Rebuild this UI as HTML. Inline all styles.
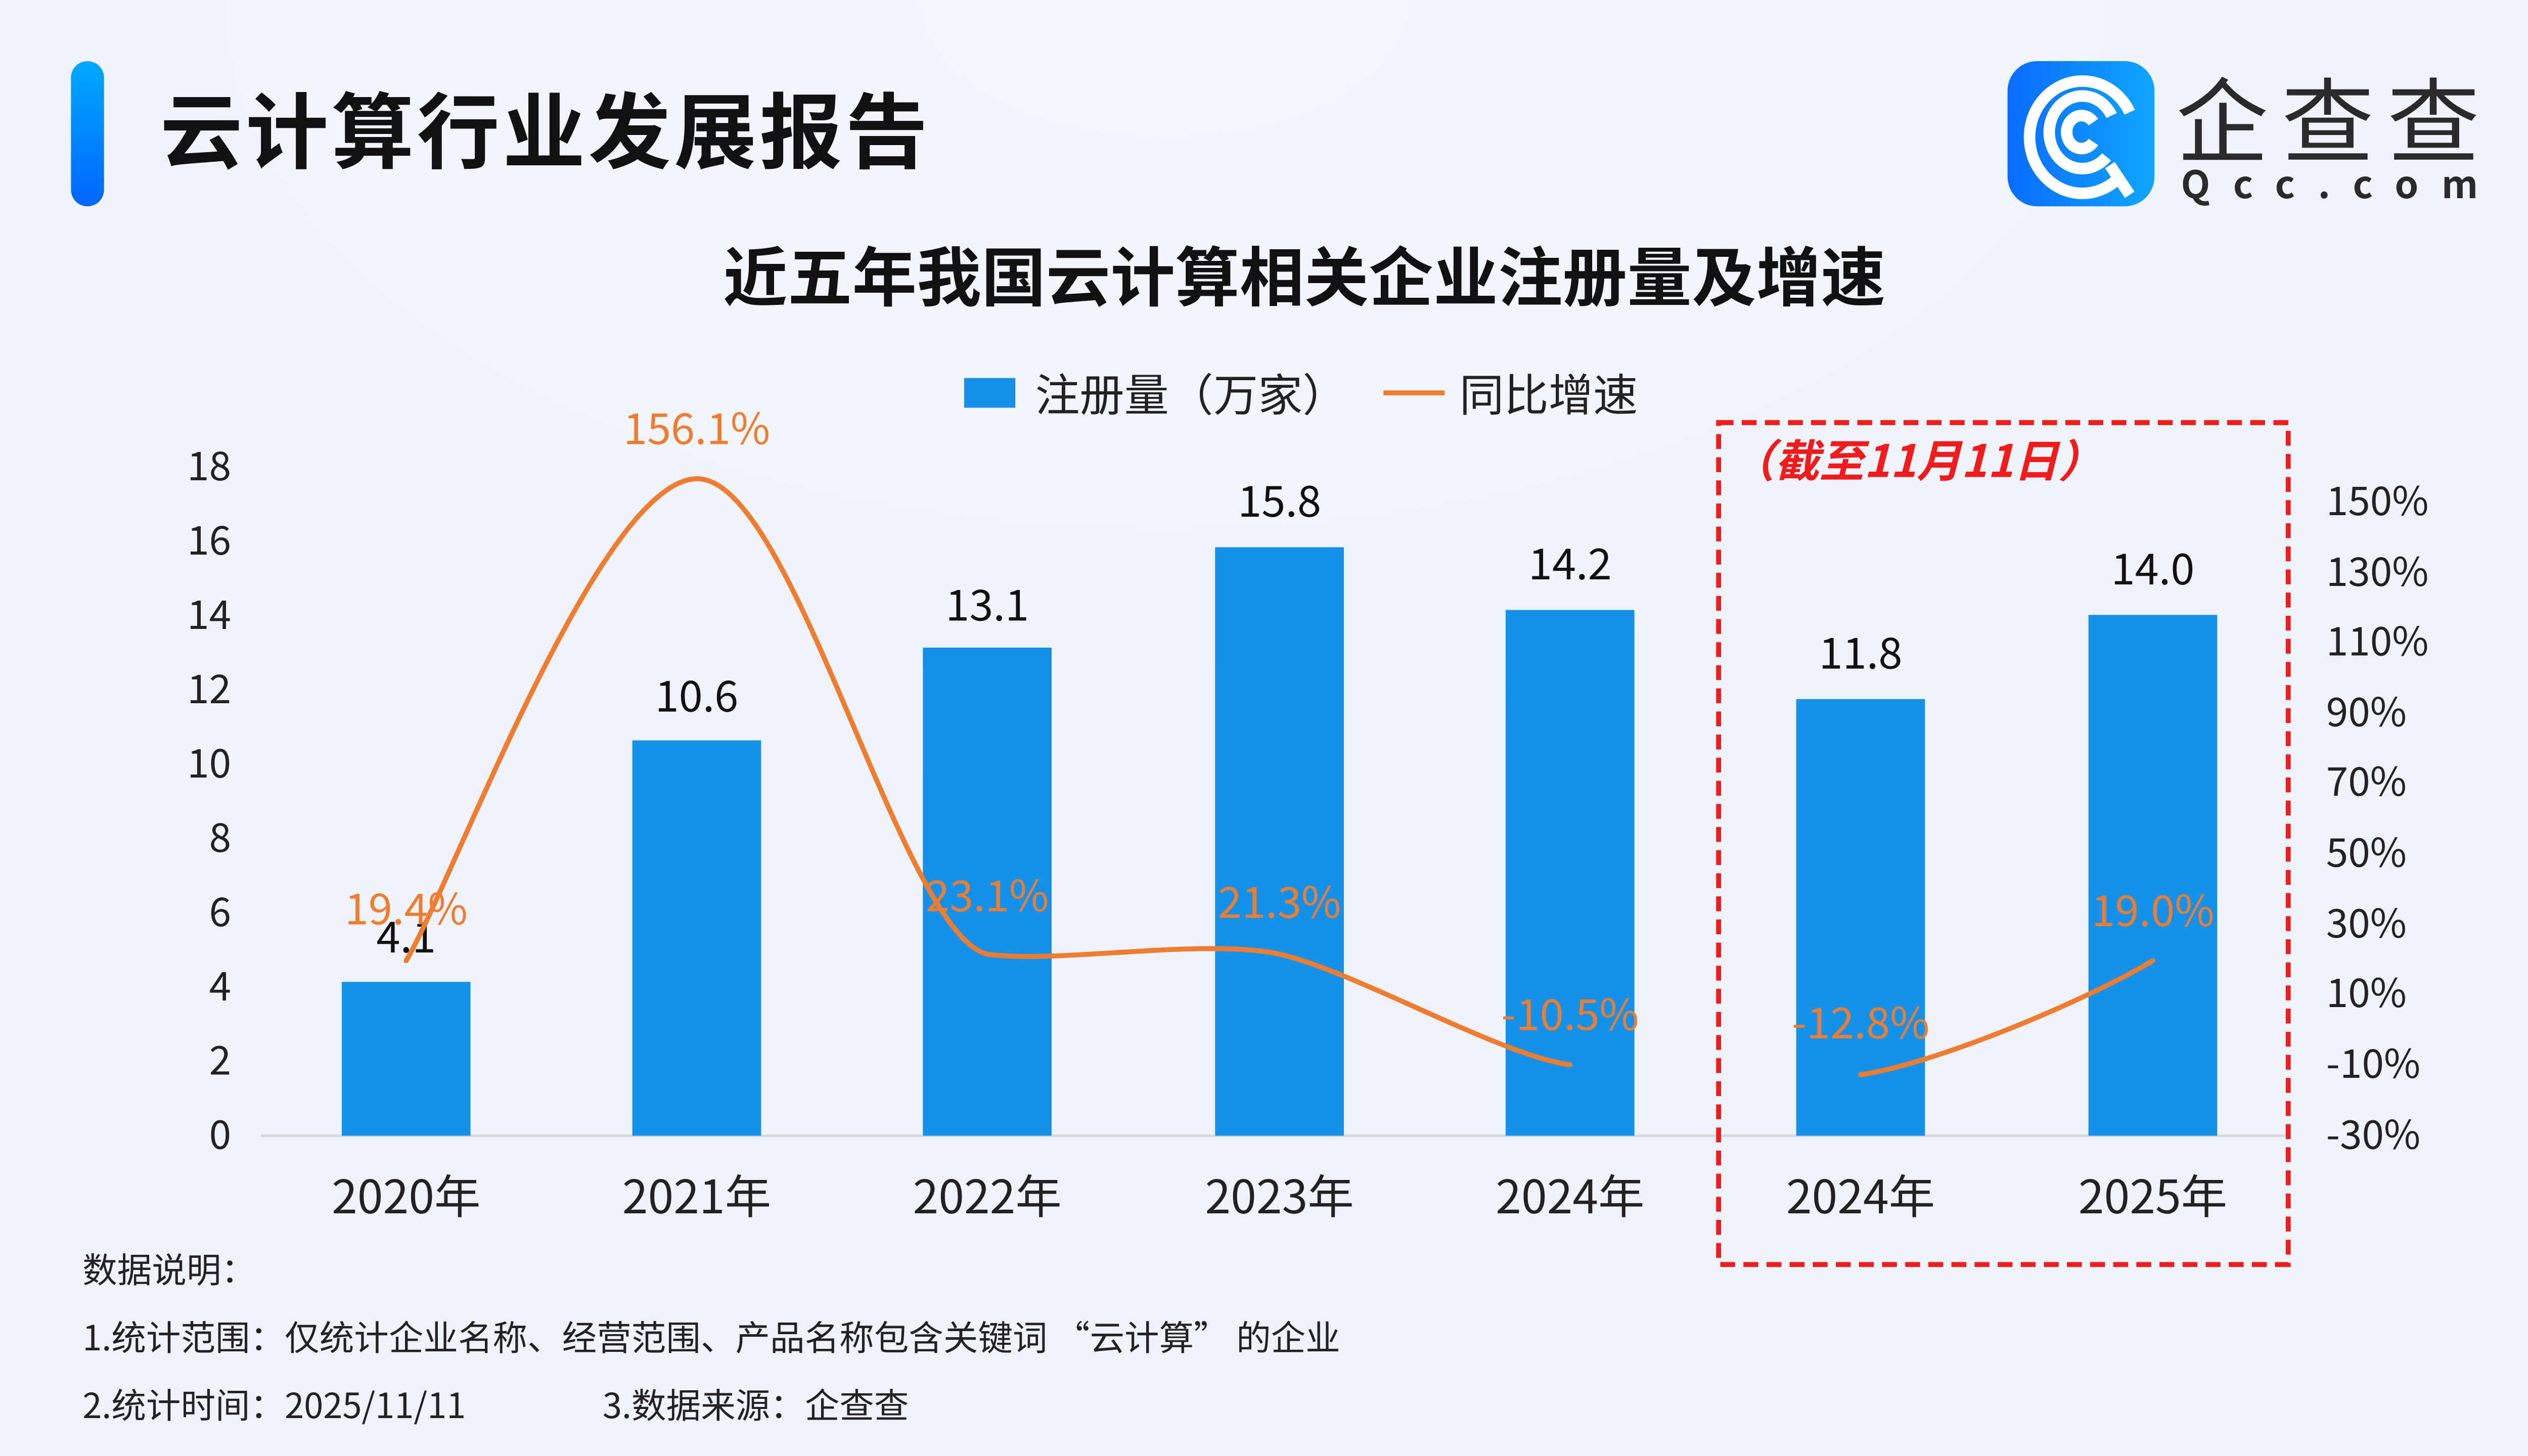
<!DOCTYPE html>
<html><head><meta charset="utf-8"><style>
html,body{margin:0;padding:0;width:5120px;height:2880px;overflow:hidden;background:#eef3fc}
svg{display:block}
text{font-family:"Noto Sans CJK SC","Liberation Sans",sans-serif}
</style></head><body>
<svg width="5120" height="2880" viewBox="0 0 1568 882" xmlns="http://www.w3.org/2000/svg">
<defs>
<linearGradient id="bar" x1="0" y1="0" x2="0" y2="1"><stop offset="0" stop-color="#00a8ff"/><stop offset="1" stop-color="#0066ff"/></linearGradient>
<linearGradient id="logo" x1="0" y1="0" x2="1" y2="0"><stop offset="0" stop-color="#0a6cff"/><stop offset="1" stop-color="#10a6ff"/></linearGradient>
<radialGradient id="bg" cx="0.45" cy="0" r="0.6"><stop offset="0" stop-color="#f3f6fd"/><stop offset="1" stop-color="#edf2fb"/></radialGradient>
</defs>
<rect width="1568" height="882" fill="url(#bg)"/>
<rect x="43" y="37" width="20" height="88" rx="10" fill="url(#bar)"/>
<text x="97" y="98" font-size="50" font-weight="bold" fill="#111" textLength="465">云计算行业发展报告</text>
<!-- logo -->
<rect x="1216" y="37" width="89" height="88" rx="18" fill="url(#logo)"/>
<g fill="none" stroke="#fff" stroke-width="7" stroke-linecap="butt">
<path d="M1285 106 A32 34 0 1 1 1290 68"/>
<path d="M1276 95 A20 22 0 1 1 1279 70"/>
<path d="M1268 86 A9 10 0 1 1 1268 74"/>
<path d="M1278 100 L1290 118"/>
</g>
<text x="1318" y="94" font-size="56" fill="#2a2a2a" textLength="184">企查查</text>
<text x="1321" y="120" font-size="23" fill="#2a2a2a" textLength="180" font-weight="bold">Qcc.com</text>
<!-- chart title -->
<text x="790" y="182" font-size="39" font-weight="bold" fill="#111" text-anchor="middle" textLength="704">近五年我国云计算相关企业注册量及增速</text>
<!-- legend -->
<rect x="584" y="229" width="31" height="18" fill="#1591ea"/>
<text x="627" y="249" font-size="27" fill="#222">注册量（万家）</text>
<line x1="838" y1="238" x2="875" y2="238" stroke="#ee7d31" stroke-width="3"/>
<text x="884" y="249" font-size="27" fill="#222">同比增速</text>
<!-- left axis -->
<g font-size="24" fill="#222" text-anchor="end">
<text x="140" y="291">18</text><text x="140" y="336">16</text><text x="140" y="381">14</text><text x="140" y="426">12</text><text x="140" y="471">10</text><text x="140" y="516">8</text><text x="140" y="561">6</text><text x="140" y="606">4</text><text x="140" y="651">2</text><text x="140" y="696">0</text>
</g>
<g font-size="24" fill="#222">
<text x="1409" y="312">150%</text><text x="1409" y="355">130%</text><text x="1409" y="397">110%</text><text x="1409" y="440">90%</text><text x="1409" y="482">70%</text><text x="1409" y="525">50%</text><text x="1409" y="568">30%</text><text x="1409" y="610">10%</text><text x="1409" y="653">-10%</text><text x="1409" y="696">-30%</text>
</g>
<line x1="158" y1="688" x2="1385" y2="688" stroke="#d9d9d9" stroke-width="1.5"/>
<!-- bars -->
<g fill="#1591ea">
<rect x="207" y="594.8" width="78" height="93.2"/>
<rect x="383" y="448.5" width="78" height="239.5"/>
<rect x="559" y="392.3" width="78" height="295.7"/>
<rect x="736" y="331.5" width="78" height="356.5"/>
<rect x="912" y="369.5" width="78" height="318.5"/>
<rect x="1088" y="423.5" width="78" height="264.5"/>
<rect x="1265" y="372.5" width="78" height="315.5"/>
</g>
<g font-size="26" fill="#111" text-anchor="middle">
<text x="246" y="577">4.1</text><text x="422" y="431">10.6</text><text x="598" y="376">13.1</text><text x="775" y="313">15.8</text><text x="951" y="351">14.2</text><text x="1127" y="405">11.8</text><text x="1304" y="354">14.0</text>
</g>
<!-- line -->
<g fill="none" stroke="#ee7d31" stroke-width="3" stroke-linecap="round">
<path d="M246 582 C275 533 363 291 422 290 C481 289 545 565 598 578 C640 584 730 568 775 578 C820 588 910 640 951 645"/>
<path d="M1127 651 C1170 645 1260 608 1304 582"/>
</g>
<g font-size="26" fill="#ee7d31" text-anchor="middle">
<text x="246" y="560">19.4%</text><text x="422" y="269">156.1%</text><text x="598" y="552">23.1%</text><text x="775" y="556">21.3%</text><text x="951" y="624">-10.5%</text><text x="1127" y="629">-12.8%</text><text x="1304" y="561">19.0%</text>
</g>
<!-- x labels -->
<g font-size="28" fill="#222" text-anchor="middle">
<text x="246" y="735">2020年</text><text x="422" y="735">2021年</text><text x="598" y="735">2022年</text><text x="775" y="735">2023年</text><text x="951" y="735">2024年</text><text x="1127" y="735">2024年</text><text x="1304" y="735">2025年</text>
</g>
<!-- dashed box -->
<rect x="1041" y="256" width="345" height="510" fill="none" stroke="#ee1c1c" stroke-width="3" stroke-dasharray="9 5"/>
<text x="1048" y="289" font-size="27" font-weight="bold" font-style="italic" fill="#ee1c1c">（截至11月11日）</text>
<!-- footer -->
<g font-size="21" fill="#222">
<text x="50" y="777">数据说明：</text>
<text x="50" y="818" xml:space="preserve">1.统计范围：仅统计企业名称、经营范围、产品名称包含关键词 “云计算” 的企业</text>
<text x="50" y="859">2.统计时间：2025/11/11</text>
<text x="365" y="859">3.数据来源：企查查</text>
</g>
</svg>
</body></html>
